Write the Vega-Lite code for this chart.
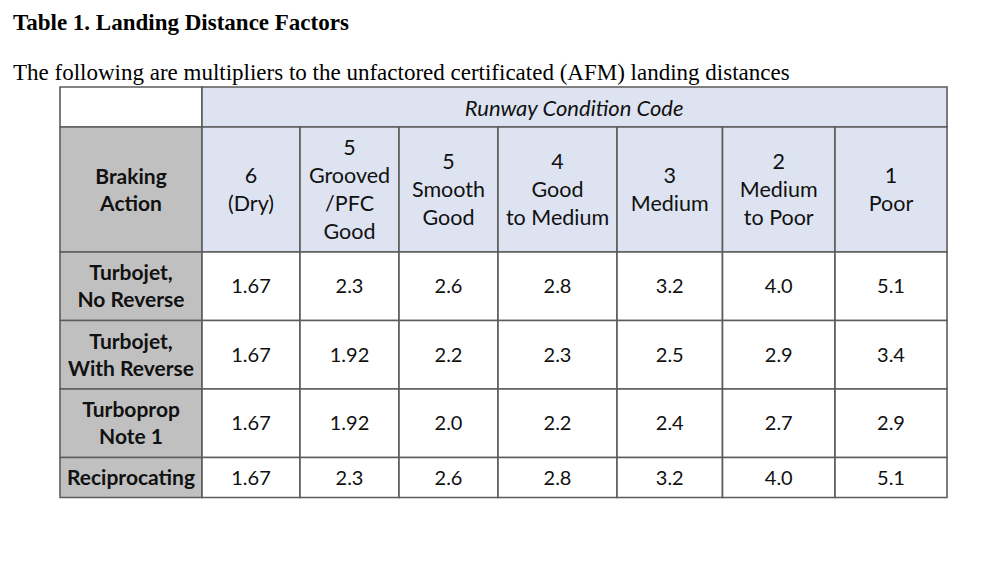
{
  "$schema": "https://vega.github.io/schema/vega-lite/v6.json",
  "width": 887,
  "height": 410.5,
  "autosize": {"type": "none"},
  "padding": {"left": 60, "top": 87, "right": 53, "bottom": 67.5},
  "background": "#ffffff",
  "view": {"stroke": null},
  "title": {
    "text": "Table 1. Landing Distance Factors",
    "subtitle": "The following are multipliers to the unfactored certificated (AFM) landing distances",
    "anchor": "start",
    "frame": "group",
    "dx": -47,
    "offset": 1,
    "font": "Liberation Serif",
    "fontSize": 23,
    "fontWeight": "bold",
    "color": "#000000",
    "subtitleFont": "Liberation Serif",
    "subtitleFontSize": 23,
    "subtitleFontWeight": "normal",
    "subtitleColor": "#000000",
    "subtitlePadding": 27
  },
  "datasets": {
    "columns": [
      {"col": "label", "c0": 0, "cm": 0.5, "c1": 1},
      {"col": "6", "c0": 1, "cm": 1.5, "c1": 2},
      {"col": "5G", "c0": 2, "cm": 2.5, "c1": 3},
      {"col": "5S", "c0": 3, "cm": 3.5, "c1": 4},
      {"col": "4", "c0": 4, "cm": 4.5, "c1": 5},
      {"col": "3", "c0": 5, "cm": 5.5, "c1": 6},
      {"col": "2", "c0": 6, "cm": 6.5, "c1": 7},
      {"col": "1", "c0": 7, "cm": 7.5, "c1": 8},
      {"col": "codes", "c0": 1, "cm": 4.64, "c1": 8}
    ],
    "rows": [
      {"row": "title", "r0": 0, "rm": 0.5, "r1": 1},
      {"row": "header", "r0": 1, "rm": 1.5, "r1": 2},
      {"row": "Turbojet, No Reverse", "r0": 2, "rm": 2.5, "r1": 3},
      {"row": "Turbojet, With Reverse", "r0": 3, "rm": 3.5, "r1": 4},
      {"row": "Turboprop Note 1", "r0": 4, "rm": 4.5, "r1": 5},
      {"row": "Reciprocating", "r0": 5, "rm": 5.5, "r1": 6}
    ],
    "cells": [
      {"row": "title", "col": "label", "role": "corner", "text": ""},
      {"row": "title", "col": "codes", "role": "title", "text": "Runway Condition Code"},
      {"row": "header", "col": "label", "role": "rowhead", "text": "Braking\nAction"},
      {"row": "header", "col": "6", "role": "colhead", "text": "6\n(Dry)"},
      {"row": "header", "col": "5G", "role": "colhead", "text": "5\nGrooved\n/PFC\nGood"},
      {"row": "header", "col": "5S", "role": "colhead", "text": "5\nSmooth\nGood"},
      {"row": "header", "col": "4", "role": "colhead", "text": "4\nGood\nto Medium"},
      {"row": "header", "col": "3", "role": "colhead", "text": "3\nMedium"},
      {"row": "header", "col": "2", "role": "colhead", "text": "2\nMedium\nto Poor"},
      {"row": "header", "col": "1", "role": "colhead", "text": "1\nPoor"},

      {"row": "Turbojet, No Reverse", "col": "label", "role": "rowhead", "text": "Turbojet,\nNo Reverse"},
      {"row": "Turbojet, No Reverse", "col": "6", "role": "value", "text": "1.67"},
      {"row": "Turbojet, No Reverse", "col": "5G", "role": "value", "text": "2.3"},
      {"row": "Turbojet, No Reverse", "col": "5S", "role": "value", "text": "2.6"},
      {"row": "Turbojet, No Reverse", "col": "4", "role": "value", "text": "2.8"},
      {"row": "Turbojet, No Reverse", "col": "3", "role": "value", "text": "3.2"},
      {"row": "Turbojet, No Reverse", "col": "2", "role": "value", "text": "4.0"},
      {"row": "Turbojet, No Reverse", "col": "1", "role": "value", "text": "5.1"},

      {"row": "Turbojet, With Reverse", "col": "label", "role": "rowhead", "text": "Turbojet,\nWith Reverse"},
      {"row": "Turbojet, With Reverse", "col": "6", "role": "value", "text": "1.67"},
      {"row": "Turbojet, With Reverse", "col": "5G", "role": "value", "text": "1.92"},
      {"row": "Turbojet, With Reverse", "col": "5S", "role": "value", "text": "2.2"},
      {"row": "Turbojet, With Reverse", "col": "4", "role": "value", "text": "2.3"},
      {"row": "Turbojet, With Reverse", "col": "3", "role": "value", "text": "2.5"},
      {"row": "Turbojet, With Reverse", "col": "2", "role": "value", "text": "2.9"},
      {"row": "Turbojet, With Reverse", "col": "1", "role": "value", "text": "3.4"},

      {"row": "Turboprop Note 1", "col": "label", "role": "rowhead", "text": "Turboprop\nNote 1"},
      {"row": "Turboprop Note 1", "col": "6", "role": "value", "text": "1.67"},
      {"row": "Turboprop Note 1", "col": "5G", "role": "value", "text": "1.92"},
      {"row": "Turboprop Note 1", "col": "5S", "role": "value", "text": "2.0"},
      {"row": "Turboprop Note 1", "col": "4", "role": "value", "text": "2.2"},
      {"row": "Turboprop Note 1", "col": "3", "role": "value", "text": "2.4"},
      {"row": "Turboprop Note 1", "col": "2", "role": "value", "text": "2.7"},
      {"row": "Turboprop Note 1", "col": "1", "role": "value", "text": "2.9"},

      {"row": "Reciprocating", "col": "label", "role": "rowhead", "text": "Reciprocating"},
      {"row": "Reciprocating", "col": "6", "role": "value", "text": "1.67"},
      {"row": "Reciprocating", "col": "5G", "role": "value", "text": "2.3"},
      {"row": "Reciprocating", "col": "5S", "role": "value", "text": "2.6"},
      {"row": "Reciprocating", "col": "4", "role": "value", "text": "2.8"},
      {"row": "Reciprocating", "col": "3", "role": "value", "text": "3.2"},
      {"row": "Reciprocating", "col": "2", "role": "value", "text": "4.0"},
      {"row": "Reciprocating", "col": "1", "role": "value", "text": "5.1"}
    ]
  },
  "data": {"name": "cells"},
  "transform": [
    {"lookup": "col", "from": {"data": {"name": "columns"}, "key": "col", "fields": ["c0", "cm", "c1"]}},
    {"lookup": "row", "from": {"data": {"name": "rows"}, "key": "row", "fields": ["r0", "rm", "r1"]}}
  ],
  "layer": [
    {
      "mark": {"type": "rect", "stroke": "#5c5c5c", "strokeWidth": 1.6},
      "encoding": {
        "x": {"field": "c0", "type": "quantitative", "axis": null,
              "scale": {"domain": [0, 1, 2, 3, 4, 5, 6, 7, 8], "range": [0, 142, 240, 339, 438, 557, 662.5, 775, 887], "nice": false, "zero": false}},
        "x2": {"field": "c1"},
        "y": {"field": "r0", "type": "quantitative", "axis": null,
              "scale": {"domain": [0, 1, 2, 3, 4, 5, 6], "range": [0, 40, 165, 233.5, 302, 370.5, 410.5], "nice": false, "zero": false}},
        "y2": {"field": "r1"},
        "fill": {"field": "role", "type": "nominal", "legend": null,
                 "scale": {"domain": ["corner", "title", "colhead", "rowhead", "value"], "range": ["#ffffff", "#dde3f0", "#dde3f0", "#c0c0c0", "#ffffff"]}}
      }
    },
    {
      "transform": [{"filter": "datum.role === 'colhead' && length(split(datum.text, '\\n')) === 2"}],
      "mark": {"type": "text", "font": "Lato", "fontSize": 21.5, "lineHeight": 28, "lineBreak": "\n", "align": "center", "baseline": "middle", "dy": -12.5, "color": "#111111"},
      "encoding": {
        "x": {"field": "cm", "type": "quantitative", "axis": null,
              "scale": {"domain": [0, 1, 2, 3, 4, 5, 6, 7, 8], "range": [0, 142, 240, 339, 438, 557, 662.5, 775, 887], "nice": false, "zero": false}},
        "y": {"field": "rm", "type": "quantitative", "axis": null,
              "scale": {"domain": [0, 1, 2, 3, 4, 5, 6], "range": [0, 40, 165, 233.5, 302, 370.5, 410.5], "nice": false, "zero": false}},
        "text": {"field": "text"}
      }
    },
    {
      "transform": [{"filter": "datum.role === 'colhead' && length(split(datum.text, '\\n')) === 3"}],
      "mark": {"type": "text", "font": "Lato", "fontSize": 21.5, "lineHeight": 28, "lineBreak": "\n", "align": "center", "baseline": "middle", "dy": -26.5, "color": "#111111"},
      "encoding": {
        "x": {"field": "cm", "type": "quantitative", "axis": null,
              "scale": {"domain": [0, 1, 2, 3, 4, 5, 6, 7, 8], "range": [0, 142, 240, 339, 438, 557, 662.5, 775, 887], "nice": false, "zero": false}},
        "y": {"field": "rm", "type": "quantitative", "axis": null,
              "scale": {"domain": [0, 1, 2, 3, 4, 5, 6], "range": [0, 40, 165, 233.5, 302, 370.5, 410.5], "nice": false, "zero": false}},
        "text": {"field": "text"}
      }
    },
    {
      "transform": [{"filter": "datum.role === 'colhead' && length(split(datum.text, '\\n')) === 4"}],
      "mark": {"type": "text", "font": "Lato", "fontSize": 21.5, "lineHeight": 28, "lineBreak": "\n", "align": "center", "baseline": "middle", "dy": -40.5, "color": "#111111"},
      "encoding": {
        "x": {"field": "cm", "type": "quantitative", "axis": null,
              "scale": {"domain": [0, 1, 2, 3, 4, 5, 6, 7, 8], "range": [0, 142, 240, 339, 438, 557, 662.5, 775, 887], "nice": false, "zero": false}},
        "y": {"field": "rm", "type": "quantitative", "axis": null,
              "scale": {"domain": [0, 1, 2, 3, 4, 5, 6], "range": [0, 40, 165, 233.5, 302, 370.5, 410.5], "nice": false, "zero": false}},
        "text": {"field": "text"}
      }
    },
    {
      "transform": [{"filter": "datum.role === 'rowhead' && length(split(datum.text, '\\n')) === 2"}],
      "mark": {"type": "text", "font": "Lato", "fontSize": 21, "fontWeight": "bold", "lineHeight": 27, "lineBreak": "\n", "align": "center", "baseline": "middle", "dy": -12, "color": "#111111"},
      "encoding": {
        "x": {"field": "cm", "type": "quantitative", "axis": null,
              "scale": {"domain": [0, 1, 2, 3, 4, 5, 6, 7, 8], "range": [0, 142, 240, 339, 438, 557, 662.5, 775, 887], "nice": false, "zero": false}},
        "y": {"field": "rm", "type": "quantitative", "axis": null,
              "scale": {"domain": [0, 1, 2, 3, 4, 5, 6], "range": [0, 40, 165, 233.5, 302, 370.5, 410.5], "nice": false, "zero": false}},
        "text": {"field": "text"}
      }
    },
    {
      "transform": [{"filter": "datum.role === 'rowhead' && length(split(datum.text, '\\n')) === 1"}],
      "mark": {"type": "text", "font": "Lato", "fontSize": 21, "fontWeight": "bold", "align": "center", "baseline": "middle", "dy": 1.5, "color": "#111111"},
      "encoding": {
        "x": {"field": "cm", "type": "quantitative", "axis": null,
              "scale": {"domain": [0, 1, 2, 3, 4, 5, 6, 7, 8], "range": [0, 142, 240, 339, 438, 557, 662.5, 775, 887], "nice": false, "zero": false}},
        "y": {"field": "rm", "type": "quantitative", "axis": null,
              "scale": {"domain": [0, 1, 2, 3, 4, 5, 6], "range": [0, 40, 165, 233.5, 302, 370.5, 410.5], "nice": false, "zero": false}},
        "text": {"field": "text"}
      }
    },
    {
      "transform": [{"filter": "datum.role === 'value'"}],
      "mark": {"type": "text", "font": "Lato", "fontSize": 20, "align": "center", "baseline": "middle", "dy": 1, "color": "#111111"},
      "encoding": {
        "x": {"field": "cm", "type": "quantitative", "axis": null,
              "scale": {"domain": [0, 1, 2, 3, 4, 5, 6, 7, 8], "range": [0, 142, 240, 339, 438, 557, 662.5, 775, 887], "nice": false, "zero": false}},
        "y": {"field": "rm", "type": "quantitative", "axis": null,
              "scale": {"domain": [0, 1, 2, 3, 4, 5, 6], "range": [0, 40, 165, 233.5, 302, 370.5, 410.5], "nice": false, "zero": false}},
        "text": {"field": "text"}
      }
    },
    {
      "transform": [{"filter": "datum.role === 'title'"}],
      "mark": {"type": "text", "font": "Lato", "fontSize": 22, "fontStyle": "italic", "align": "center", "baseline": "middle", "dy": 1.5, "color": "#111111"},
      "encoding": {
        "x": {"field": "cm", "type": "quantitative", "axis": null,
              "scale": {"domain": [0, 1, 2, 3, 4, 5, 6, 7, 8], "range": [0, 142, 240, 339, 438, 557, 662.5, 775, 887], "nice": false, "zero": false}},
        "y": {"field": "rm", "type": "quantitative", "axis": null,
              "scale": {"domain": [0, 1, 2, 3, 4, 5, 6], "range": [0, 40, 165, 233.5, 302, 370.5, 410.5], "nice": false, "zero": false}},
        "text": {"field": "text"}
      }
    }
  ]
}
